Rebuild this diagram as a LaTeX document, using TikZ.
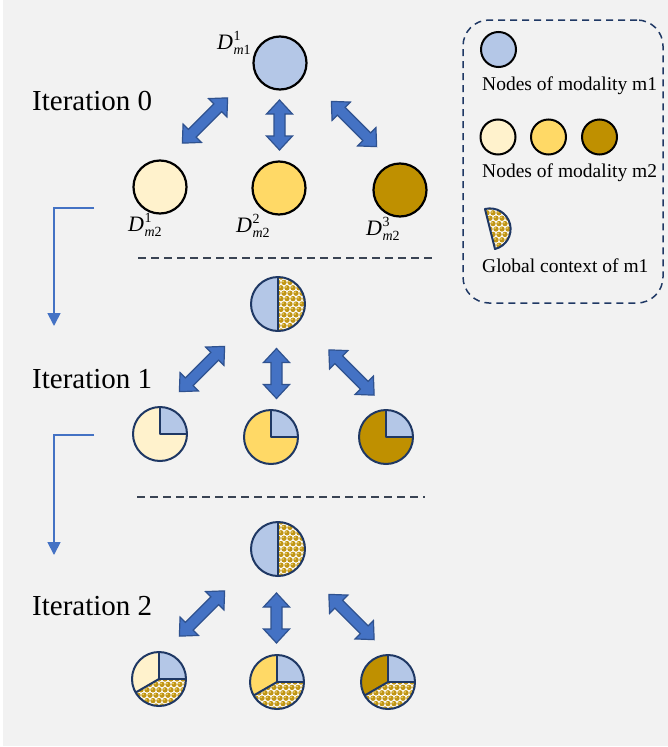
\documentclass[tikz,border=0pt]{standalone}
\usepackage{fontspec}
\setmainfont{Liberation Serif}
\usetikzlibrary{arrows.meta}

\definecolor{bg}{HTML}{F2F2F2}
\definecolor{mone}{HTML}{B4C7E7}
\definecolor{mtwoa}{HTML}{FFF2CC}
\definecolor{mtwob}{HTML}{FFD966}
\definecolor{mtwoc}{HTML}{BF9000}
\definecolor{navy}{HTML}{1F3864}
\definecolor{arrowblue}{HTML}{4472C4}
\definecolor{arrowedge}{HTML}{2F528F}
\definecolor{sepgrey}{HTML}{3A4454}
\definecolor{dotgold}{HTML}{C09515}
\definecolor{dotlight}{HTML}{E8CB62}

% D with an upper index and a lower index (letter + digit)
\newcommand\Dlab[3]{%
  {\fontsize{22}{22}\selectfont\itshape D}\kern0.5pt%
  \rlap{\raisebox{8.5pt}{\fontsize{14}{14}\selectfont #1}}%
  \raisebox{-5pt}{\fontsize{14}{14}\selectfont\itshape #2\upshape #3}}

\tikzset{
  itlab/.style={font=\fontsize{29}{34}\selectfont, anchor=base west, inner sep=0pt},
  legtext/.style={font=\fontsize{19.5}{23}\selectfont, anchor=base west, inner sep=0pt},
  dlab/.style={inner sep=0pt, anchor=base west},
  node0/.style={circle, inner sep=0pt, outer sep=0pt, minimum size=53pt, draw=black, line width=2.2pt},
  legnode/.style={circle, inner sep=0pt, outer sep=0pt, minimum size=35pt, draw=black, line width=2pt},
  pienode/.style={circle, inner sep=0pt, outer sep=0pt, minimum size=54pt},
  pieline/.style={draw=navy, line width=2pt, line join=round},
  blockarrow/.style={fill=arrowblue, draw=arrowedge, line width=1.2pt, line join=miter},
  flow/.style={draw=arrowblue, line width=1.8pt, -{Triangle[length=13pt,width=13pt]}},
  sepline/.style={draw=sepgrey, line width=1.8pt, dash pattern=on 8pt off 5pt},
  % double-headed block arrow, #1 = half length
  dblarrow/.pic={
    \path[blockarrow] (-#1,0) -- (-#1+14,13) -- (-#1+14,5.5) -- (#1-14,5.5) -- (#1-14,13)
      -- (#1,0) -- (#1-14,-13) -- (#1-14,-5.5) -- (-#1+14,-5.5) -- (-#1+14,-13) -- cycle;
  }
}

\newcommand\R{27}
% gold dot texture, drawn around the origin of the current scope
\newcommand\ctxdots{%
  \fill[white] (-32,-32) rectangle (32,32);
  \foreach \j in {-6,...,6}{\foreach \i in {-6,...,6}{%
    \fill[dotgold] ({\i*6+3*mod(\j+10,2)},{\j*5.4}) circle[radius=2.7];
    \fill[dotlight] ({\i*6+3*mod(\j+10,2)-0.9},{\j*5.4-0.9}) circle[radius=1];}}}
% half blue, half context
\newcommand\halfpie[1]{%
  \begin{scope}[shift={(#1.center)}]
    \fill[mone] (0,0) -- (-90:\R) arc[start angle=-90, end angle=-270, radius=\R] -- cycle;
    \begin{scope}
      \clip (0,0) -- (90:\R) arc[start angle=90, end angle=-90, radius=\R] -- cycle;
      \ctxdots
    \end{scope}
  \end{scope}
  \draw[pieline] (#1.center) circle[radius=\R];
  \draw[pieline] (#1.north) -- (#1.south);}
% own colour with a blue quarter
\newcommand\quarterpie[2]{%
  \begin{scope}[shift={(#1.center)}]
    \fill[#2] (0,0) circle[radius=\R];
    \fill[mone] (0,0) -- (0:\R) arc[start angle=0, end angle=-90, radius=\R] -- cycle;
  \end{scope}
  \draw[pieline] (#1.center) circle[radius=\R];
  \draw[pieline] (#1.east) -- (#1.center) -- (#1.north);}
% own colour, blue quarter and context
\newcommand\thirdpie[2]{%
  \begin{scope}[shift={(#1.center)}]
    \fill[#2] (0,0) circle[radius=\R];
    \fill[mone] (0,0) -- (0:\R) arc[start angle=0, end angle=-90, radius=\R] -- cycle;
    \begin{scope}
      \clip (0,0) -- (-210:\R) arc[start angle=-210, end angle=-360, radius=\R] -- cycle;
      \ctxdots
    \end{scope}
    \draw[pieline] (0,0) -- (-210:\R);
  \end{scope}
  \draw[pieline] (#1.center) circle[radius=\R];
  \draw[pieline] (#1.east) -- (#1.center) -- (#1.north);}

\begin{document}
\begin{tikzpicture}[x=1pt, y=-1pt]
  \useasboundingbox (0,0) rectangle (668,747);
  \fill[white] (0,0) rectangle (668,747);
  \fill[bg] (3,0) rectangle (668,746);

  % ---- iteration 0 ----
  \node[itlab] (it0) at (32,110) {Iteration 0};
  \node[node0, fill=mone]  (a0) at (280,63) {};
  \node[node0, fill=mtwoa] (a1) at (160,187) {};
  \node[node0, fill=mtwob] (a2) at (279,188) {};
  \node[node0, fill=mtwoc] (a3) at (400,190) {};
  \node[dlab] (la0) at (217,49) {\Dlab{1}{m}{1}};
  \node[dlab] (la1) at (128,231) {\Dlab{1}{m}{2}};
  \node[dlab] (la2) at (236,232) {\Dlab{2}{m}{2}};
  \node[dlab] (la3) at (366,235) {\Dlab{3}{m}{2}};
  \pic[rotate=45]  at (205,120.5) {dblarrow=32};
  \pic[rotate=90]  at (279.5,125) {dblarrow=25};
  \pic[rotate=-45] at (354,124) {dblarrow=32};

  \coordinate (s0a) at (138,258);
  \coordinate (s0b) at (432,258);
  \draw[sepline] (s0a) -- (s0b);
  \coordinate (f0a) at (94,208);
  \coordinate (f0b) at (54,326);
  \draw[flow] (f0a) -| (f0b);

  % ---- iteration 1 ----
  \node[itlab] (it1) at (32,388) {Iteration 1};
  \node[pienode] (b0) at (278,304) {};
  \node[pienode, minimum size=53pt] (b1) at (160,434) {};
  \node[pienode, minimum size=53pt] (b2) at (271,437) {};
  \node[pienode, minimum size=53pt] (b3) at (386,437) {};
  \halfpie{b0}
  \quarterpie{b1}{mtwoa}
  \quarterpie{b2}{mtwob}
  \quarterpie{b3}{mtwoc}
  \pic[rotate=45]  at (202,369) {dblarrow=32};
  \pic[rotate=90]  at (276.5,373.5) {dblarrow=25};
  \pic[rotate=-45] at (351.5,372.5) {dblarrow=32};

  \coordinate (s1a) at (137,497);
  \coordinate (s1b) at (425,497);
  \draw[sepline] (s1a) -- (s1b);
  \coordinate (f1a) at (94,435);
  \coordinate (f1b) at (54,555);
  \draw[flow] (f1a) -| (f1b);

  % ---- iteration 2 ----
  \node[itlab] (it2) at (32,615) {Iteration 2};
  \node[pienode] (c0) at (278,549) {};
  \node[pienode] (c1) at (159,679) {};
  \node[pienode] (c2) at (277,682) {};
  \node[pienode] (c3) at (388,682) {};
  \halfpie{c0}
  \thirdpie{c1}{mtwoa}
  \thirdpie{c2}{mtwob}
  \thirdpie{c3}{mtwoc}
  \pic[rotate=45]  at (202,613.5) {dblarrow=32};
  \pic[rotate=90]  at (276.5,618) {dblarrow=25};
  \pic[rotate=-45] at (351.5,617) {dblarrow=32};

  % ---- legend ----
  \node[draw=navy, line width=1.5pt, dash pattern=on 7pt off 5pt, rounded corners=26pt,
        minimum width=200pt, minimum height=283pt, inner sep=0pt] (legend) at (563,161.5) {};
  \node[legnode, fill=mone]  (g1) at (498.5,49.5) {};
  \node[legtext] (t1) at (482,90) {Nodes of modality m1};
  \node[legnode, fill=mtwoa] (g2) at (498,137) {};
  \node[legnode, fill=mtwob] (g3) at (548.5,137) {};
  \node[legnode, fill=mtwoc] (g4) at (599.5,137) {};
  \node[legtext] (t2) at (482,177) {Nodes of modality m2};
  \coordinate (gc) at (490,229);
  \begin{scope}
    \clip (gc) ++(-104:20.6) arc[start angle=-104, end angle=76, radius=20.6] -- cycle;
    \begin{scope}[shift={(gc)}]\ctxdots\end{scope}
  \end{scope}
  \draw[pieline] (gc) ++(-104:20.6) arc[start angle=-104, end angle=76, radius=20.6] -- cycle;
  \node[legtext] (t3) at (482,272) {Global context of m1};
\end{tikzpicture}
\end{document}
